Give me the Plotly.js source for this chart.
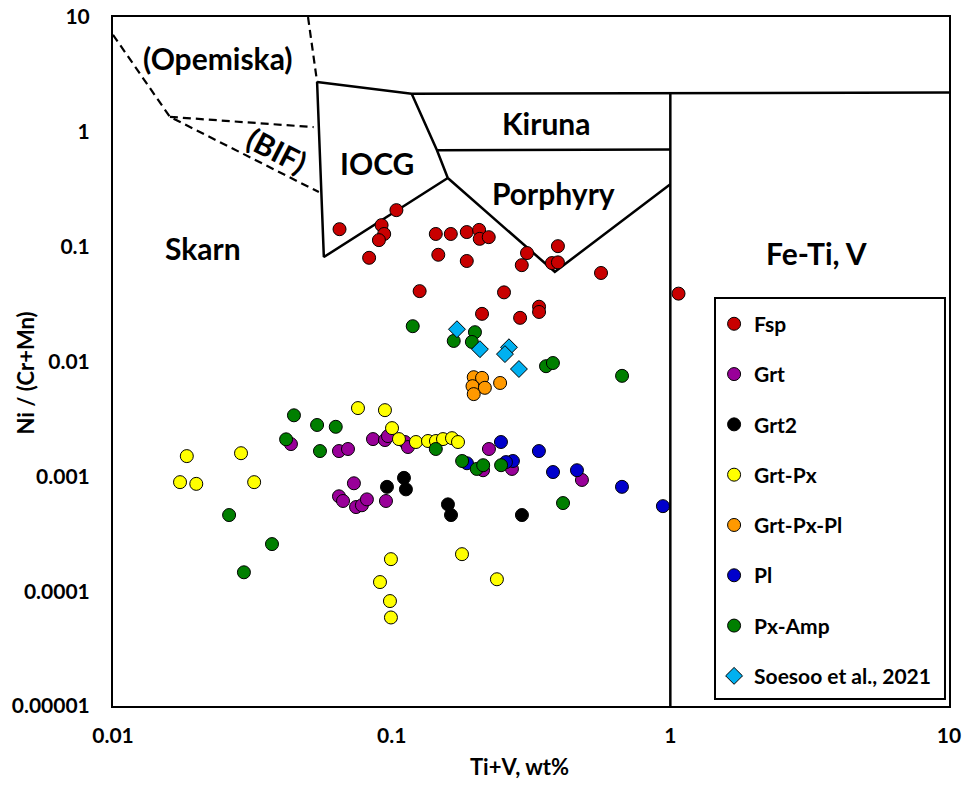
<!DOCTYPE html>
<html>
<head>
<meta charset="utf-8">
<script src="https://cdn.plot.ly/plotly-3.0.1.min.js"></script>
<style>html,body{margin:0;padding:0;background:#fff}#chart{width:966px;height:785px}</style>
</head>
<body>
<div id="chart"></div>
<script>
// ---- data ----
const seriesNames = ['Fsp', 'Grt', 'Grt2', 'Grt-Px', 'Grt-Px-Pl', 'Pl', 'Px-Amp', 'Soesoo et al., 2021'];

const fspX = [0.065, 0.104, 0.092, 0.094, 0.090, 0.083, 0.144, 0.163, 0.186, 0.206, 0.207, 0.223, 0.147, 0.186, 0.306, 0.395, 0.293, 0.376, 0.395, 0.564, 1.07, 0.126, 0.253, 0.211, 0.289, 0.338, 0.338];
const fspY = [0.142, 0.208, 0.154, 0.129, 0.114, 0.080, 0.129, 0.129, 0.134, 0.140, 0.117, 0.121, 0.085, 0.075, 0.088, 0.101, 0.069, 0.072, 0.073, 0.059, 0.039, 0.041, 0.040, 0.026, 0.024, 0.030, 0.027];

const grtX = [0.0435, 0.0647, 0.0697, 0.0857, 0.0946, 0.0970, 0.1116, 0.1144, 0.0732, 0.0647, 0.0669, 0.0745, 0.0782, 0.0815, 0.0954, 0.2234, 0.2128, 0.2702, 0.4817];
const grtY = [0.00191, 0.00166, 0.00173, 0.00211, 0.00207, 0.00224, 0.00199, 0.00180, 0.00087, 0.00067, 0.00061, 0.00054, 0.00056, 0.00063, 0.00061, 0.00173, 0.00113, 0.00116, 0.00093];

const grt2X = [0.0962, 0.1107, 0.1125, 0.1592, 0.1633, 0.2934];
const grt2Y = [0.00081, 0.00097, 0.00077, 0.00057, 0.00046, 0.00046];

const grtPxX = [0.0184, 0.0174, 0.0199, 0.0288, 0.0321, 0.0757, 0.0946, 0.1003, 0.1062, 0.1222, 0.1350, 0.1442, 0.1528, 0.1646, 0.1730, 0.0994, 0.0908, 0.0986, 0.0994, 0.1788, 0.2386];
const grtPxY = [0.00150, 0.00089, 0.00086, 0.00159, 0.00089, 0.00393, 0.00377, 0.00263, 0.00211, 0.00199, 0.00203, 0.00203, 0.00211, 0.00215, 0.00199, 0.00019, 0.00012, 0.000082, 0.000059, 0.00021, 0.000127];

const grtPxPlX = [0.197, 0.211, 0.195, 0.216, 0.197, 0.245];
const grtPxPlY = [0.0073, 0.0072, 0.0061, 0.0059, 0.0052, 0.0065];

const plX = [0.2467, 0.2723, 0.2571, 0.1863, 0.3376, 0.3793, 0.4623, 0.6706, 0.9406];
const plY = [0.00199, 0.00136, 0.00133, 0.00130, 0.00166, 0.00109, 0.00113, 0.00081, 0.00055];

const pxAmpX = [0.119, 0.167, 0.199, 0.194, 0.358, 0.379, 0.671, 0.0446, 0.054, 0.063, 0.0418, 0.0553, 0.0261, 0.0372, 0.0295, 0.144, 0.179, 0.202, 0.213, 0.247, 0.412];
const pxAmpY = [0.0203, 0.0151, 0.0180, 0.0148, 0.0091, 0.0097, 0.0075, 0.0034, 0.0028, 0.0027, 0.0021, 0.00166, 0.00046, 0.000257, 0.000146, 0.00173, 0.00136, 0.00116, 0.00125, 0.00125, 0.000585];

const soesooX = [0.1715, 0.2074, 0.2636, 0.2550, 0.2862];
const soesooY = [0.0191, 0.0128, 0.0133, 0.0116, 0.0086];

// discrimination-field boundaries (Ti+V, Ni/(Cr+Mn))
const solidBoundX = [0.054, 0.118, 10, null, 0.054, 0.0571, 0.159, null, 0.118, 0.1454, 0.159, null, 0.1454, 1.0, null, 0.159, 0.385, 1.0, null, 1.0, 1.0];
const solidBoundY = [2.72, 2.15, 2.2, null, 2.72, 0.0812, 0.396, null, 2.15, 0.69, 0.396, null, 0.69, 0.70, null, 0.396, 0.0604, 0.35, null, 2.18, 0.00001];
const dashBoundX = [0.01, 0.016, 0.0548, null, 0.016, 0.0525, null, 0.0501, 0.054];
const dashBoundY = [7.0, 1.35, 0.299, null, 1.35, 1.10, null, 10, 2.72];

const xTickVals = [0.01, 0.1, 1, 10];
const xTickText = ['0.01', '0.1', '1', '10'];
const yTickVals = [0.00001, 0.0001, 0.001, 0.01, 0.1, 1, 10];
const yTickText = ['0.00001', '0.0001', '0.001', '0.01', '0.1', '1', '10'];
const minorMultipliers = [2, 3, 4, 5, 6, 7, 8, 9];

// ---- chart ----
const xRange = [-2, 1];
const yRange = [-5, 1];

// decade ticks plus the 2..9 positions inside every decade
function logTickVals(decades) {
  const vals = [];
  decades.forEach((d, i) => {
    vals.push(d);
    if (i < decades.length - 1) minorMultipliers.forEach(m => vals.push(+(d * m).toPrecision(3)));
  });
  return vals;
}
const xTickAll = logTickVals(xTickVals);
const yTickAll = logTickVals(yTickVals);

const FONT = 'Lato, "Open Sans", "Liberation Sans", sans-serif';
const colors = ['#C80000', '#990099', '#000000', '#FFFF00', '#FF9900', '#0000CC', '#007F00', '#00B0F0'];
const xs = [fspX, grtX, grt2X, grtPxX, grtPxPlX, plX, pxAmpX, soesooX];
const ys = [fspY, grtY, grt2Y, grtPxY, grtPxPlY, plY, pxAmpY, soesooY];

// tick marks drawn as short line markers just outside the axes (unclipped), ~4 px outside
const xTickRow = Math.pow(10, yRange[0] - 4 / 114.8);
const yTickCol = Math.pow(10, xRange[0] - 4 / 278.7);

const traces = [
  {x: solidBoundX, y: solidBoundY, mode: 'lines', line: {color: '#000', width: 2.5}, showlegend: false, hoverinfo: 'skip', connectgaps: false},
  {x: dashBoundX, y: dashBoundY, mode: 'lines', line: {color: '#000', width: 2.2, dash: '8px,5px'}, showlegend: false, hoverinfo: 'skip', connectgaps: false},
  {x: xTickAll, y: xTickAll.map(() => xTickRow), mode: 'markers', cliponaxis: false, showlegend: false, hoverinfo: 'skip',
   marker: {symbol: 'line-ns-open', size: 7, color: '#000', line: {color: '#000', width: 1.6}}},
  {x: yTickAll.map(() => yTickCol), y: yTickAll, mode: 'markers', cliponaxis: false, showlegend: false, hoverinfo: 'skip',
   marker: {symbol: 'line-ew-open', size: 7, color: '#000', line: {color: '#000', width: 1.6}}}
];
seriesNames.forEach((n, i) => {
  traces.push({
    x: xs[i], y: ys[i], name: n, mode: 'markers', type: 'scatter',
    legendgroup: 'g' + i,
    marker: {color: colors[i], size: 13, symbol: i === 7 ? 'diamond' : 'circle', line: {color: '#000', width: 1}}
  });
});

function ann(text, lx, ly, angle) {
  return {text: text, x: lx, y: ly, xref: 'x', yref: 'y', showarrow: false, textangle: angle || 0,
          font: {family: FONT, size: 30, weight: 'bold', color: '#000'}};
}

const layout = {
  width: 966, height: 785,
  margin: {l: 113, r: 17, t: 17, b: 79},
  paper_bgcolor: '#fff', plot_bgcolor: '#fff',
  font: {family: FONT, color: '#000', weight: 'bold'},
  showlegend: true,
  legend: {x: 0.719, y: 0.584, xanchor: 'left', yanchor: 'top', bgcolor: 'rgba(0,0,0,0)', borderwidth: 0,
           font: {family: FONT, size: 21, weight: 'bold', color: '#000'}, traceorder: 'grouped', tracegroupgap: 20},
  xaxis: {type: 'log', range: xRange, tickmode: 'array', tickvals: xTickVals, ticktext: xTickText,
          showgrid: false, zeroline: false, showline: true, linecolor: '#000', linewidth: 2, mirror: true,
          ticks: '', ticklabelstandoff: 10,
          tickfont: {family: FONT, size: 21, weight: 'bold', color: '#000'}},
  yaxis: {type: 'log', range: yRange, tickmode: 'array', tickvals: yTickVals, ticktext: yTickText,
          showgrid: false, zeroline: false, showline: true, linecolor: '#000', linewidth: 2, mirror: true,
          ticks: '', ticklabelstandoff: 17,
          tickfont: {family: FONT, size: 21, weight: 'bold', color: '#000'}},
  shapes: [
    {type: 'rect', xref: 'paper', yref: 'paper', x0: 0.7201, x1: 0.9952, y0: 0.0102, y1: 0.5922,
     line: {color: '#000', width: 2}, fillcolor: '#fff', layer: 'above'}
  ],
  annotations: [
    ann('(Opemiska)', -1.625, 0.647),
    ann('(BIF)', -1.4115, -0.1585, 27),
    ann('IOCG', -1.051, -0.272),
    ann('Skarn', -1.678, -1.012),
    ann('Kiruna', -0.445, 0.081),
    ann('Porphyry', -0.4195, -0.529),
    ann('Fe-Ti, V', 0.5246, -1.056),
    {text: 'Ni / (Cr+Mn)', xref: 'paper', yref: 'paper', x: -0.1041, y: 0.484, xanchor: 'center', yanchor: 'middle',
     textangle: -90, showarrow: false, font: {family: FONT, size: 22, weight: 'bold', color: '#000'}},
    {text: 'Ti+V, wt%', xref: 'paper', yref: 'paper', x: 0.486, y: -0.088, xanchor: 'center', yanchor: 'middle',
     showarrow: false, font: {family: FONT, size: 22, weight: 'bold', color: '#000'}}
  ]
};

Plotly.newPlot('chart', traces, layout, {displayModeBar: false, staticPlot: true});
</script>
</body>
</html>
